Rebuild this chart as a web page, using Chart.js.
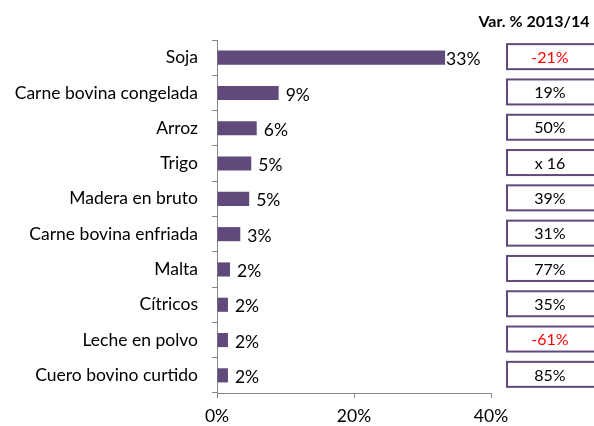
<!DOCTYPE html>
<html lang="es">
<head>
    <meta charset="UTF-8">
    <title>Exportaciones por producto</title>
    <script src="https://cdn.jsdelivr.net/npm/chart.js"></script>
    <style>
        body {
            margin: 0;
            background: #ffffff;
        }
        .wrap {
            width: 594px;
            height: 426px;
            position: relative;
        }
    </style>
</head>
<body>
    <div class="wrap">
        <canvas id="chart"></canvas>
    </div>

    <script>
        const categories = ['Soja', 'Carne bovina congelada', 'Arroz', 'Trigo', 'Madera en bruto',
            'Carne bovina enfriada', 'Malta', 'Cítricos', 'Leche en polvo', 'Cuero bovino curtido'];
        const shares = [33.3, 9.0, 5.8, 5.0, 4.7, 3.4, 1.9, 1.6, 1.6, 1.6];
        const shareLabels = ['33%', '9%', '6%', '5%', '5%', '3%', '2%', '2%', '2%', '2%'];
        const variations = ['-21%', '19%', '50%', 'x 16', '39%', '31%', '77%', '35%', '-61%', '85%'];
        const varTitle = 'Var. % 2013/14';
        const xTicks = [0, 20, 40];

        const FONT = 'Lato, "Open Sans", sans-serif';
        const PURPLE = '#604A7B';
        const AXIS = '#868686';

        // value labels after the bars + the variation boxes on the right
        const extras = {
            id: 'extras',
            afterDatasetsDraw(chart) {
                const ctx = chart.ctx;
                const meta = chart.getDatasetMeta(0);
                const y = chart.scales.y;
                ctx.save();
                ctx.font = '17.5px ' + FONT;
                ctx.textBaseline = 'middle';
                ctx.fillStyle = '#000';
                ctx.textAlign = 'left';
                meta.data.forEach((bar, i) => {
                    const off = i === 0 ? 1 : 7;
                    ctx.fillText(shareLabels[i], bar.x + off, bar.y + 2);
                });

                ctx.font = 'bold 16px ' + FONT;
                ctx.textAlign = 'center';
                ctx.fillText(varTitle, 534, 22);

                ctx.font = '16px ' + FONT;
                variations.forEach((v, i) => {
                    const cy = y.getPixelForValue(i) - 1;
                    ctx.strokeStyle = PURPLE;
                    ctx.lineWidth = 2;
                    ctx.strokeRect(507, cy - 12.5, 100, 25);
                    ctx.fillStyle = v.startsWith('-') ? '#ff0000' : '#000';
                    ctx.fillText(v, 550, cy + 1);
                });
                ctx.restore();
            }
        };

        new Chart(document.getElementById('chart'), {
            type: 'bar',
            data: {
                labels: categories,
                datasets: [{
                    data: shares,
                    backgroundColor: PURPLE,
                    borderWidth: 0,
                    barPercentage: 0.4,
                    categoryPercentage: 1.0
                }]
            },
            options: {
                indexAxis: 'y',
                responsive: true,
                maintainAspectRatio: false,
                animation: false,
                layout: {
                    padding: { left: 0, right: 103, top: 40, bottom: 0 }
                },
                plugins: {
                    legend: { display: false },
                    tooltip: { enabled: false }
                },
                scales: {
                    x: {
                        min: 0,
                        max: 40,
                        afterBuildTicks: (scale) => {
                            scale.ticks = xTicks.map(v => ({ value: v }));
                        },
                        afterFit: (scale) => { scale.height = 33; },
                        grid: {
                            drawOnChartArea: false,
                            drawTicks: true,
                            tickLength: 5,
                            color: AXIS
                        },
                        border: { color: AXIS, width: 1 },
                        ticks: {
                            padding: 8,
                            color: '#000',
                            font: { family: FONT, size: 17.5 },
                            callback: v => v + '%'
                        }
                    },
                    y: {
                        afterFit: (scale) => { scale.width = 217; },
                        grid: {
                            drawOnChartArea: false,
                            drawTicks: true,
                            tickLength: 5,
                            color: AXIS
                        },
                        border: { color: AXIS, width: 1 },
                        ticks: {
                            padding: 14,
                            color: '#000',
                            font: { family: FONT, size: 17.5 }
                        }
                    }
                }
            },
            plugins: [extras]
        });
    </script>
</body>
</html>
